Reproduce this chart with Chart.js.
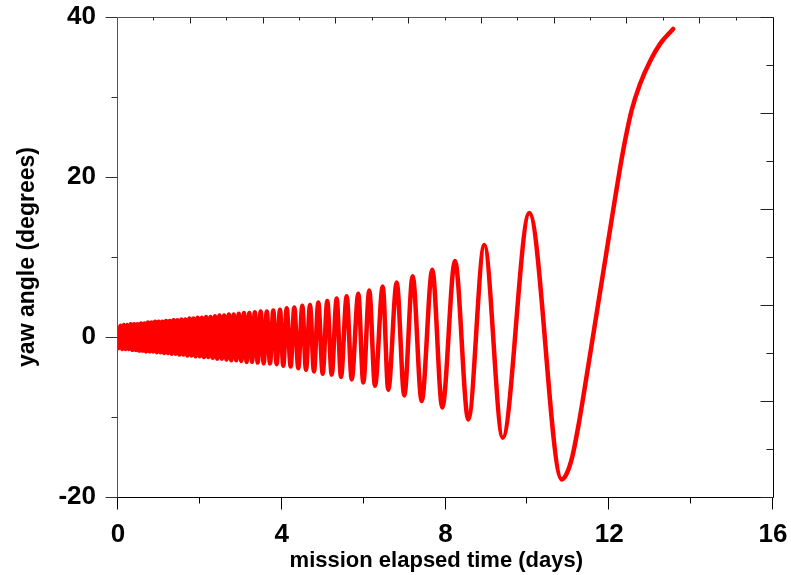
<!DOCTYPE html>
<html lang="en">
<head>
<meta charset="UTF-8">
<title>Yaw angle vs mission elapsed time</title>
<script src="https://cdn.jsdelivr.net/npm/chart.js"></script>
<style>
  body { margin: 0; background: #fff; }
  #wrap { width: 791px; height: 575px; }
</style>
</head>
<body>
<div id="wrap"><canvas id="yawChart" width="791" height="575"></canvas></div>
<script>
// tight oscillation, first ~3.7 days (turning points)
const denseDays = [
  0, 0.057, 0.099, 0.141, 0.183, 0.225, 0.267, 0.309, 0.351, 0.393,
  0.435, 0.477, 0.519, 0.561, 0.603, 0.646, 0.689, 0.732, 0.775, 0.818,
  0.862, 0.906, 0.950, 0.994, 1.039, 1.084, 1.129, 1.174, 1.220, 1.266,
  1.312, 1.359, 1.406, 1.453, 1.501, 1.549, 1.597, 1.646, 1.695, 1.744,
  1.794, 1.844, 1.894, 1.945, 1.996, 2.048, 2.100, 2.153, 2.206, 2.260,
  2.314, 2.369, 2.424, 2.480, 2.536, 2.593, 2.650, 2.708, 2.767, 2.827,
  2.888, 2.950, 3.013, 3.077, 3.142, 3.208, 3.275, 3.343, 3.413, 3.485,
  3.559, 3.635, 3.713
];
const denseYaw = [
  -1.4, 1.4, -1.5, 1.5, -1.5, 1.5, -1.5, 1.6, -1.6, 1.6,
  -1.6, 1.6, -1.7, 1.7, -1.7, 1.7, -1.8, 1.8, -1.8, 1.8,
  -1.8, 1.9, -1.9, 1.9, -1.9, 1.9, -2.0, 2.0, -2.0, 2.0,
  -2.1, 2.1, -2.1, 2.1, -2.2, 2.2, -2.2, 2.2, -2.3, 2.3,
  -2.3, 2.3, -2.4, 2.4, -2.4, 2.4, -2.5, 2.5, -2.5, 2.5,
  -2.6, 2.6, -2.7, 2.7, -2.7, 2.7, -2.8, 2.8, -2.9, 2.8,
  -2.9, 2.9, -3.0, 3.0, -3.1, 3.0, -3.1, 3.1, -3.2, 3.2,
  -3.3, 3.2, -3.3
];

// growing swings, peaks and troughs
const swingDays = [
  3.793, 3.876, 3.957, 4.038, 4.121, 4.218, 4.306, 4.404, 4.502, 4.592,
  4.690, 4.787, 4.893, 5.000, 5.112, 5.220, 5.342, 5.447, 5.586, 5.709,
  5.870, 5.992, 6.138, 6.278, 6.466, 6.602, 6.808, 6.993, 7.198, 7.418,
  7.677, 7.921, 8.232, 8.557, 8.947, 9.397, 10.047, 10.838
];
const swingYaw = [
  3.3, -3.4, 3.4, -3.6, 3.6, -3.7, 3.7, -3.9, 3.9, -4.1,
  4.0, -4.3, 4.3, -4.6, 4.5, -4.7, 4.8, -5.0, 5.1, -5.3,
  5.4, -5.7, 5.8, -6.1, 6.3, -6.6, 6.8, -7.3, 7.6, -8.0,
  8.4, -8.8, 9.5, -10.3, 11.5, -12.6, 15.5, -17.8
];

// final climb after the last trough
const riseDays = [10.95, 11.10, 11.25, 11.40, 11.55, 11.70, 11.85, 12.00, 12.10, 12.26, 12.40, 12.55, 12.75, 13.00, 13.25, 13.56];
const riseYaw  = [-17.2, -14.9, -11.0, -6.4, -1.6, 3.2, 8.0, 12.8, 16.0, 21.0, 24.9, 28.4, 31.6, 34.5, 36.7, 38.5];

const xTickLabels = [0, 4, 8, 12, 16];
const xMinorTicks = [2, 6, 10, 14];
const yTickLabels = [-20, 0, 20, 40];
const yMinorTicks = [-10, 10, 30];

const days = denseDays.concat(swingDays, riseDays);
const yaw = denseYaw.concat(swingYaw, riseYaw);
const points = days.map((d, i) => ({ x: d, y: yaw[i] }));

const FONT = '"Liberation Sans", Arial, Helvetica, sans-serif';
const tickFont = { family: FONT, size: 26, weight: 'bold' };

// keep the plot box where it is; labels may hang over the edges
function fixBox(s, w, h) {
  if (w !== null) s.width = w;
  if (h !== null) s.height = h;
  s.paddingLeft = s.paddingRight = s.paddingTop = s.paddingBottom = 0;
}

// frame and tick marks, drawn from the chart's own scales
const axisFrame = {
  id: 'axisFrame',
  afterDraw(chart) {
    const { ctx, chartArea: a, scales } = chart;
    const L = a.left - 0.5, R = a.right + 0.5, T = a.top + 0.5, B = a.bottom + 0.5;
    const line = (x1, y1, x2, y2, c) => {
      ctx.strokeStyle = c;
      ctx.beginPath(); ctx.moveTo(x1, y1); ctx.lineTo(x2, y2); ctx.stroke();
    };
    ctx.save();
    ctx.lineWidth = 1;
    line(L, T, L, B, '#555');
    line(L, T, R, T, '#555');
    line(R, T, R, B, '#000');
    line(L, B, R, B, '#000');

    const px = v => Math.round(scales.x.getPixelForValue(v)) - 0.5;
    const py = v => Math.round(scales.y.getPixelForValue(v)) + 0.5;
    xTickLabels.forEach(v => line(px(v), B, px(v), B + 12, '#000'));
    xMinorTicks.forEach(v => line(px(v), B, px(v), B + 6, '#000'));
    yTickLabels.forEach(v => line(L, py(v), L - 12, py(v), '#333'));
    yMinorTicks.forEach(v => line(L, py(v), L - 6, py(v), '#333'));

    // inward ticks on the top and right axes
    for (let v = 1; v < 18; v++) {
      const x = Math.round(scales.x2.getPixelForValue(v)) - 0.5;
      line(x, T, x, T + (v % 2 === 0 ? 6 : 3), '#222');
    }
    for (let v = 0; v <= 10; v++) {
      const y = Math.round(scales.y2.getPixelForValue(v)) + 0.5;
      line(R, y, R - (v % 2 === 0 ? 13 : 7), y, '#222');
    }
    ctx.restore();
  }
};

new Chart(document.getElementById('yawChart'), {
  type: 'line',
  data: {
    datasets: [{
      data: points,
      borderColor: '#ff0000',
      borderWidth: 4.5,
      pointRadius: 0,
      cubicInterpolationMode: 'monotone',
      borderJoinStyle: 'round',
      borderCapStyle: 'round',
      fill: false
    }]
  },
  options: {
    responsive: false,
    animation: false,
    devicePixelRatio: 1,
    layout: { padding: 0 },
    plugins: { legend: { display: false }, tooltip: { enabled: false } },
    scales: {
      x: {
        type: 'linear', position: 'bottom', min: 0, max: 16,
        afterBuildTicks: s => { s.ticks = xTickLabels.map(v => ({ value: v })); },
        grid: { display: false, drawTicks: false },
        border: { display: false },
        ticks: { padding: 22, color: '#000', font: tickFont, maxRotation: 0, autoSkip: false },
        // trailing spaces nudge the centred title a little left, as in the original
        title: { display: true, text: 'mission elapsed time (days)   ', color: '#000',
                 font: { family: FONT, size: 22, weight: 'bold' }, padding: { top: 0, bottom: 1 } },
        afterFit: s => fixBox(s, null, 78)
      },
      y: {
        type: 'linear', position: 'left', min: -20, max: 40,
        afterBuildTicks: s => { s.ticks = yTickLabels.map(v => ({ value: v })); },
        grid: { display: false, drawTicks: false },
        border: { display: false },
        ticks: { padding: 22, color: '#000', font: tickFont, autoSkip: false },
        title: { display: true, text: 'yaw angle (degrees)', color: '#000',
                 font: { family: FONT, size: 23, weight: 'bold' }, padding: { top: 14, bottom: 0 } },
        afterFit: s => fixBox(s, 118, null)
      },
      x2: {
        type: 'linear', position: 'top', min: 0, max: 18,
        grid: { display: false, drawTicks: false }, border: { display: false },
        ticks: { display: false },
        afterFit: s => fixBox(s, null, 17)
      },
      y2: {
        type: 'linear', position: 'right', min: 0, max: 10,
        grid: { display: false, drawTicks: false }, border: { display: false },
        ticks: { display: false },
        afterFit: s => fixBox(s, 18, null)
      }
    }
  },
  plugins: [axisFrame]
});
</script>
</body>
</html>
